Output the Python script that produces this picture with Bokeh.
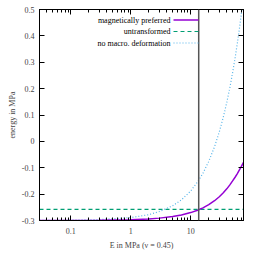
from bokeh.plotting import figure
from bokeh.models import LogAxis, LinearAxis, Span, Label, Arrow, FixedTicker, Range1d
from bokeh.embed import file_html
from bokeh.resources import INLINE

# ---- data ----
E = [0.03, 0.1, 0.3, 1, 2, 3, 5, 7, 10, 13, 16, 20, 25, 30, 35, 40, 45, 50, 55, 60, 65, 70, 76]
magnetic = [-0.2999, -0.2997, -0.2991, -0.297, -0.294, -0.291, -0.285, -0.279, -0.270, -0.261,
            -0.252, -0.240, -0.225, -0.210, -0.195, -0.180, -0.165, -0.150, -0.136, -0.122,
            -0.108, -0.095, -0.080]
no_macro = [-0.2997, -0.2989, -0.2966, -0.289, -0.278, -0.266, -0.244, -0.222, -0.188, -0.154,
            -0.121, -0.076, -0.020, 0.036, 0.092, 0.148, 0.204, 0.260, 0.316, 0.372,
            0.428, 0.484, 0.551]
E_untr = [0.03, 76]
untransformed = [-0.258, -0.258]
E_marker = 13.6
series_names = ["magnetically preferred", "untransformed", "no macro. deformation"]
y_ticks = [-0.3, -0.2, -0.1, 0, 0.1, 0.2, 0.3, 0.4, 0.5]
y_tick_labels = ["-0.3", "-0.2", "-0.1", "0", "0.1", "0.2", "0.3", "0.4", "0.5"]
x_ticks = [0.1, 1, 10]
x_tick_labels = ["0.1", "1", "10"]
x_minor = [0.03, 0.04, 0.05, 0.06, 0.07, 0.08, 0.09, 0.2, 0.3, 0.4, 0.5, 0.6, 0.7, 0.8, 0.9,
           2, 3, 4, 5, 6, 7, 8, 9, 20, 30, 40, 50, 60, 70]

FONT = "Liberation Serif"
FS = "8px"
C_MAG, C_UNT, C_NOM = "#9400d3", "#009e73", "#56b4e9"

p = figure(width=256, height=256, x_axis_type="log",
           x_range=Range1d(0.03, 76), y_range=Range1d(-0.3, 0.5),
           output_backend="svg", toolbar_location=None,
           min_border_left=39, min_border_right=13, min_border_top=9, min_border_bottom=36)
p.grid.visible = False
p.outline_line_color = "black"
p.background_fill_color = "white"

xt = FixedTicker(ticks=x_ticks, minor_ticks=x_minor)
yt = FixedTicker(ticks=y_ticks, minor_ticks=[])

def style(ax):
    ax.major_tick_in = 5
    ax.major_tick_out = 0
    ax.minor_tick_in = 3
    ax.minor_tick_out = 0
    ax.axis_line_color = "black"
    ax.major_tick_line_color = "black"
    ax.minor_tick_line_color = "black"
    ax.major_label_text_font = FONT
    ax.major_label_text_font_size = FS
    ax.axis_label_text_font = FONT
    ax.axis_label_text_font_size = FS
    ax.axis_label_text_font_style = "normal"

xa = p.xaxis[0]
xa.ticker = xt
xa.major_label_overrides = {t: l for t, l in zip(x_ticks, x_tick_labels)}
xa.axis_label = "E in MPa (ν = 0.45)"
style(xa)
xa.major_label_standoff = 7
xa.axis_label_standoff = 4

ya = p.yaxis[0]
ya.ticker = yt
ya.major_label_overrides = {t: l for t, l in zip(y_ticks, y_tick_labels)}
ya.axis_label = "energy in MPa"
style(ya)
ya.major_label_standoff = 5
ya.axis_label_standoff = 2

top = LogAxis(ticker=xt)
style(top)
top.major_label_text_font_size = "1px"
top.major_label_text_alpha = 0
top.major_label_standoff = 0
p.add_layout(top, "above")

right = LinearAxis(ticker=yt)
style(right)
right.major_label_text_font_size = "1px"
right.major_label_text_alpha = 0
right.major_label_standoff = 0
p.add_layout(right, "right")

p.line(E_untr, untransformed, color=C_UNT, line_width=1.2, line_dash="4 3")
p.line(E, no_macro, color=C_NOM, line_width=1.2, line_dash="1 2")
p.line(E, magnetic, color=C_MAG, line_width=1.5)
p.add_layout(Span(location=E_marker, dimension="height", line_color="#555555", line_width=1.5))

# legend (gnuplot style: text left, sample right)
colors = [C_MAG, C_UNT, C_NOM]
dashes = ["solid", "4 3", "1 2"]
ys = [200.5, 189, 177.5]
for name, c, d, yy in zip(series_names, colors, dashes, ys):
    p.add_layout(Label(x=131, y=yy, x_units="screen", y_units="screen", text=name,
                       text_align="right", text_baseline="middle",
                       text_font=FONT, text_font_size=FS, text_color="black"))
    p.add_layout(Arrow(end=None, x_start=134, y_start=yy, x_end=159, y_end=yy,
                       start_units="screen", end_units="screen",
                       line_color=c, line_width=1.5 if d == "solid" else 1.2, line_dash=d))

open("out.html", "w").write(file_html(p, INLINE))
